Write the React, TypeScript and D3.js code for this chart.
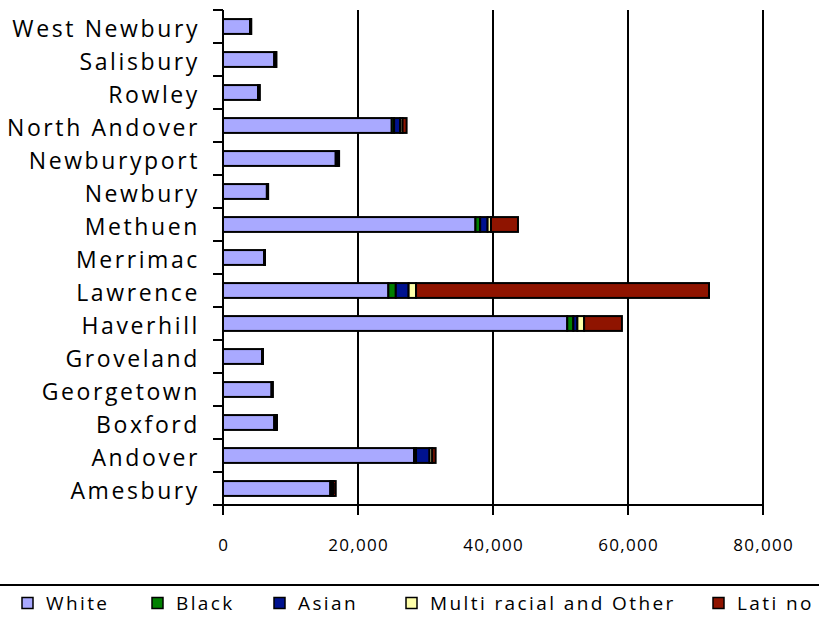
import React from "react";
import * as d3 from "d3";

const towns = ["West Newbury","Salisbury","Rowley","North Andover","Newburyport","Newbury","Methuen","Merrimac","Lawrence","Haverhill","Groveland","Georgetown","Boxford","Andover","Amesbury"];
const white  = [4000, 7600, 5200, 25000, 16700, 6500, 37400, 6100, 24500, 51000, 5800, 7200, 7600, 28300, 15900];
const black  = [30, 60, 40, 350, 80, 30, 700, 20, 1100, 900, 20, 30, 60, 300, 100];
const asian  = [60, 120, 100, 900, 200, 60, 1100, 40, 1900, 600, 40, 60, 180, 2000, 200];
const multi  = [40, 60, 50, 350, 100, 40, 500, 30, 1100, 1000, 30, 40, 80, 400, 200];
const latino = [60, 80, 60, 600, 120, 60, 4000, 30, 43400, 5600, 30, 50, 80, 500, 300];
const seriesNames = ["White","Black","Asian","Multi racial and Other","Lati no"];
const seriesColors = ["#a9a9ff","#008000","#00128f","#ffffaa","#8f1400"];
const xTicks = [0, 20000, 40000, 60000, 80000];

export default function App() {
  const W = 819, H = 619;
  const left = 223, right = 763, top = 10, bottom = 505;
  const x = d3.scaleLinear().domain([0, 80000]).range([left, right]);
  const y = d3.scaleBand().domain(towns).range([top, bottom]).paddingInner(0.55).paddingOuter(0.275);
  const series = [white, black, asian, multi, latino];
  const rows = towns.map((t, i) => {
    const o: any = { town: t };
    seriesNames.forEach((s, k) => (o[s] = series[k][i]));
    return o;
  });
  const stacked = d3.stack().keys(seriesNames)(rows);
  const band = (bottom - top) / towns.length;
  const fmt = d3.format(",");
  const font = "'Open Sans', sans-serif";
  const legendX = [22, 152, 274, 406, 713];

  return (
    <svg width={W} height={H} style={{ position: "absolute", left: 0, top: 0, background: "#fff" }}>
      {/* gridlines */}
      {xTicks.slice(1).map((t) => (
        <line key={"g" + t} x1={x(t)} x2={x(t)} y1={top} y2={bottom} stroke="#000" strokeWidth={2} />
      ))}
      {/* bars */}
      {stacked.map((s, k) => (
        <g key={s.key}>
          {s.map((d, i) => (
            <rect key={i} x={x(d[0])} y={y(towns[i])!} width={Math.max(0, x(d[1]) - x(d[0]))} height={y.bandwidth()}
              fill={seriesColors[k]} stroke="#000" strokeWidth={2} />
          ))}
        </g>
      ))}
      {/* y axis */}
      <line x1={left} x2={left} y1={top} y2={bottom} stroke="#000" strokeWidth={2} />
      {d3.range(towns.length).map((i) => (
        <line key={"yt" + i} x1={left - 10} x2={left} y1={top + i * band} y2={top + i * band} stroke="#000" strokeWidth={2} />
      ))}
      {towns.map((t) => (
        <text key={t} x={200} y={y(t)! + y.bandwidth() / 2 + 10.5} textAnchor="end" fontFamily={font} fontSize={23} letterSpacing={2.6} fill="#000">{t}</text>
      ))}
      {/* x axis */}
      <line x1={left - 10} x2={right} y1={bottom} y2={bottom} stroke="#000" strokeWidth={2} />
      {xTicks.map((t) => (
        <g key={"xt" + t}>
          <line x1={x(t)} x2={x(t)} y1={bottom} y2={bottom + 10} stroke="#000" strokeWidth={2} />
          <text x={x(t) + 0.7} y={545} dy="0.35em" textAnchor="middle" fontFamily={font} fontSize={17} letterSpacing={1.3} fill="#000">{fmt(t)}</text>
        </g>
      ))}
      {/* legend */}
      <line x1={0} x2={W} y1={585} y2={585} stroke="#000" strokeWidth={2} />
      {seriesNames.map((s, k) => (
        <g key={s}>
          <rect x={legendX[k]} y={597.5} width={11} height={11} fill={seriesColors[k]} stroke="#000" strokeWidth={1.5} />
          <text x={legendX[k] + 24} y={610} fontFamily={font} fontSize={19} letterSpacing={2.4} fill="#000">{s}</text>
        </g>
      ))}
    </svg>
  );
}
